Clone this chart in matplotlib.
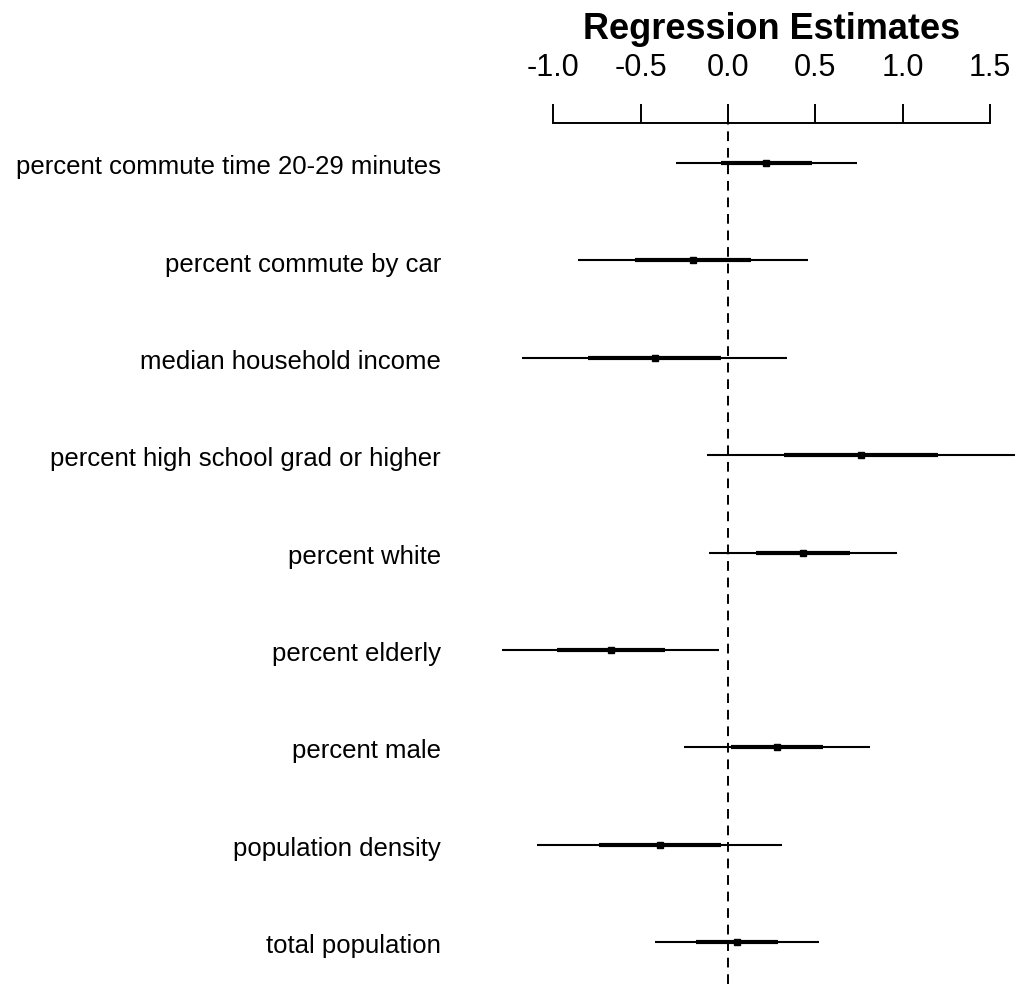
import matplotlib.pyplot as plt
import matplotlib.transforms as mtransforms
import numpy as np

plt.rcParams['font.family'] = ['Liberation Sans', 'DejaVu Sans']

# coefficient estimates (top row first)
labels = ['percent commute time 20-29 minutes', 'percent commute by car',
          'median household income', 'percent high school grad or higher',
          'percent white', 'percent elderly', 'percent male',
          'population density', 'total population']
est = np.array([0.22, -0.20, -0.42, 0.76, 0.43, -0.67, 0.28, -0.39, 0.05])
se = np.array([0.26, 0.33, 0.38, 0.44, 0.27, 0.31, 0.265, 0.35, 0.235])
ticks = [-1.0, -0.5, 0.0, 0.5, 1.0, 1.5]

W, H = 1016, 984
fig = plt.figure(figsize=(W / 100, H / 100), dpi=100)
# axes: left edge at 492 px, top at 123 px, to the right/bottom edges
ax = fig.add_axes([492 / W, 0, 1 - 492 / W, 1 - 123 / H])

y = np.arange(1, len(labels) + 1)
ax.hlines(y, est - 2 * se, est + 2 * se, color='black', lw=1.5)
ax.hlines(y, est - se, est + se, color='black', lw=3.0)
ax.plot(est, y, 's', color='black', ms=4.5)
ax.axvline(0, color='black', lw=1.4, ls=(0, (5, 3.5)))

ax.set_xlim(-1.35, 1.648)
ax.set_ylim(9.431, 0.589)

for s in ['left', 'right', 'bottom']:
    ax.spines[s].set_visible(False)
ax.spines['top'].set_bounds(-1.0, 1.5)
ax.spines['top'].set_linewidth(1.4)
ax.xaxis.tick_top()
ax.set_xticks(ticks)
ax.set_xticklabels(['%.1f' % t for t in ticks])
ax.tick_params(axis='x', direction='out', length=13.5, width=1.4, pad=15,
               labelsize=22)
ax.set_yticks([])

# row labels, right-aligned at x = 441 px
trans = mtransforms.blended_transform_factory(fig.transFigure, ax.transData)
for yi, lab in zip(y, labels):
    ax.annotate(lab, xy=(441 / W, yi), xycoords=trans, xytext=(0, -3),
                textcoords='offset points', ha='right', va='center',
                fontsize=18.5, annotation_clip=False)

fig.text(771.5 / W, 1 - 39 / H, 'Regression Estimates', ha='center',
         va='baseline', fontsize=26, fontweight='bold')

fig.savefig('out.png', dpi=100)
